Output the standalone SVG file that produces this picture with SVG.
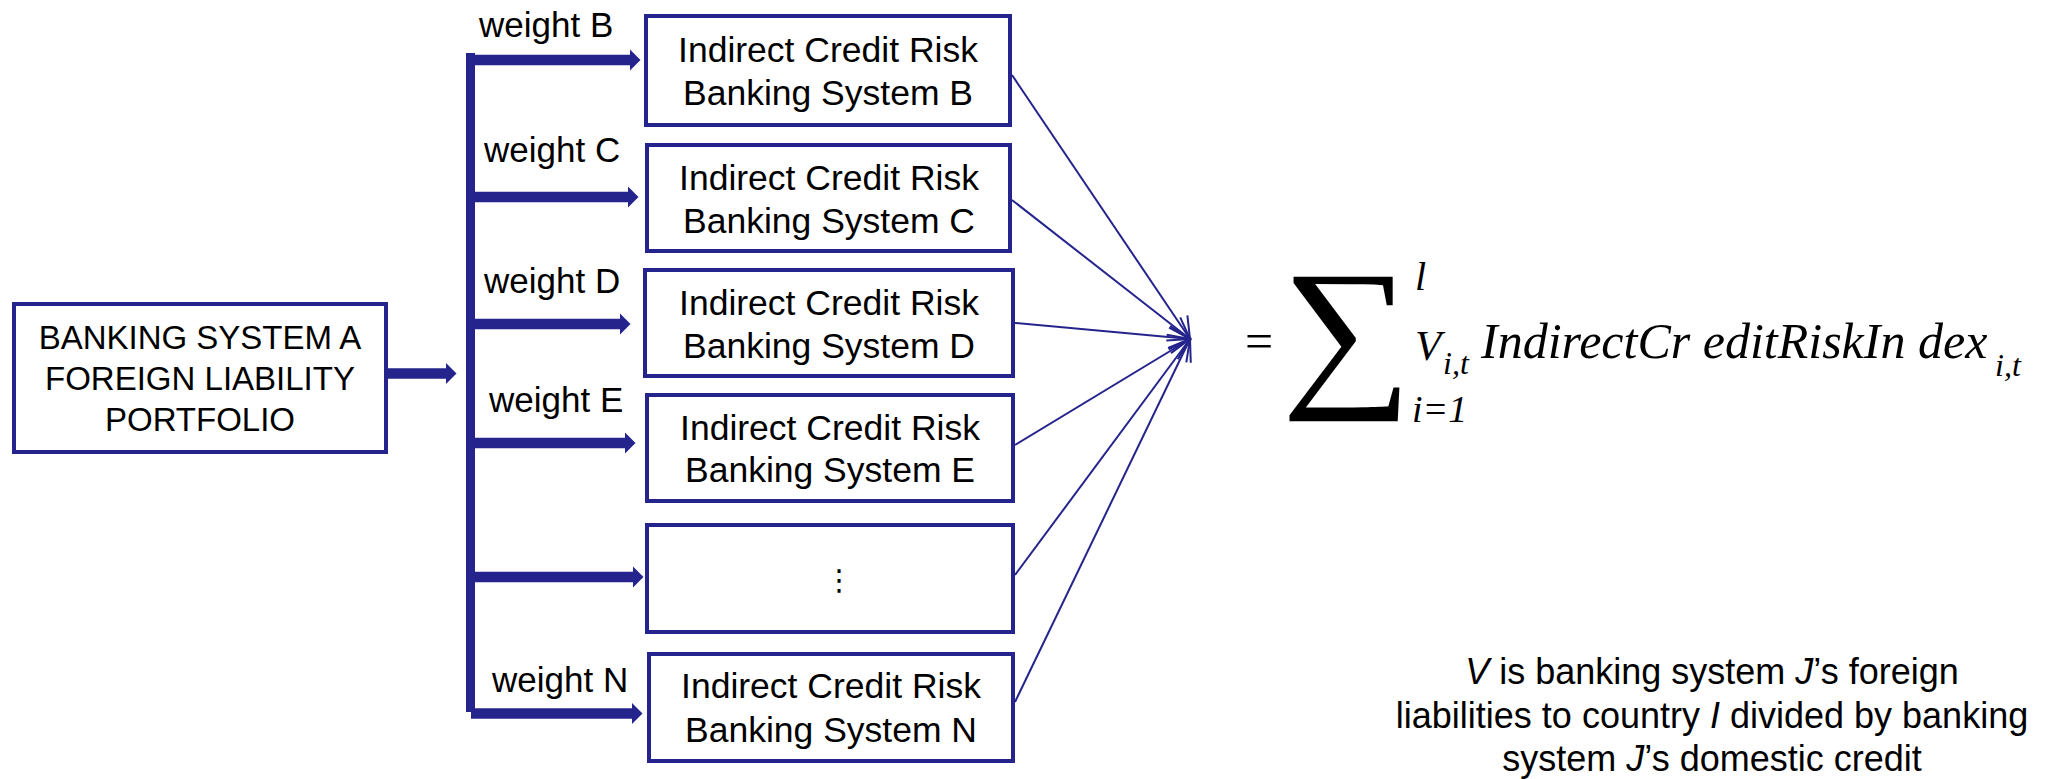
<svg xmlns="http://www.w3.org/2000/svg" width="2062" height="779" viewBox="0 0 2062 779">
  <style>
    .box { fill: #ffffff; stroke: #24248C; stroke-width: 4; }
    .lbl { font-family: "Liberation Sans", Arial, sans-serif; fill: #000000; text-anchor: middle; }
    .wt { font-family: "Liberation Sans", Arial, sans-serif; font-size: 35px; fill: #000000; }
    .feed { stroke: #24248C; stroke-width: 10.5; fill: none; marker-end: url(#block); }
    .link { stroke: #24248C; stroke-width: 2; fill: none; marker-end: url(#open); }
    .math { font-family: "Liberation Serif", "Times New Roman", serif; font-style: italic; fill: #000000; }
    .note { font-family: "Liberation Sans", Arial, sans-serif; font-size: 36px; fill: #000000; text-anchor: middle; }
  </style>
  <defs>
    <marker id="block" markerUnits="userSpaceOnUse" markerWidth="14" markerHeight="24" viewBox="0 -12 14 24" refX="0" refY="0" orient="auto">
      <path d="M0,-10.5 L10.5,0 L0,10.5 Z" fill="#24248C"/>
    </marker>
    <marker id="open" markerUnits="userSpaceOnUse" markerWidth="30" markerHeight="30" viewBox="-26 -15 30 30" refX="0" refY="0" orient="auto">
      <path d="M-21,-11 L0,0 L-21,11" fill="none" stroke="#24248C" stroke-width="2"/>
    </marker>
  </defs>

  <rect width="2062" height="779" fill="#ffffff"/>

  <!-- connectors -->
  <g id="connectors">
    <!-- source to distribution bus -->
    <line class="feed" x1="386" y1="373.5" x2="446" y2="373.5"/>
    <!-- distribution bus -->
    <rect x="466" y="53" width="9" height="659" fill="#24248C"/>
    <!-- weighted branches -->
    <line class="feed" x1="470" y1="60" x2="630" y2="60"/>
    <line class="feed" x1="470" y1="197" x2="628" y2="197"/>
    <line class="feed" x1="470" y1="324" x2="620" y2="324"/>
    <line class="feed" x1="470" y1="443" x2="625" y2="443"/>
    <line class="feed" x1="470" y1="577" x2="633" y2="577"/>
    <line class="feed" x1="471" y1="713.5" x2="632" y2="713.5"/>
    <!-- aggregation links -->
    <line class="link" x1="1012" y1="75" x2="1190" y2="339"/>
    <line class="link" x1="1012" y1="200" x2="1190" y2="339"/>
    <line class="link" x1="1015" y1="323" x2="1190" y2="339"/>
    <line class="link" x1="1015" y1="445" x2="1190" y2="339"/>
    <line class="link" x1="1015" y1="575" x2="1190" y2="339"/>
    <line class="link" x1="1015" y1="702" x2="1190" y2="339"/>
  </g>

  <!-- branch weights -->
  <g id="weights">
    <text class="wt" x="479" y="37">weight B</text>
    <text class="wt" x="484" y="162">weight C</text>
    <text class="wt" x="484" y="293">weight D</text>
    <text class="wt" x="489" y="412">weight E</text>
    <text class="wt" x="492" y="692">weight N</text>
  </g>

  <g id="node-a">
    <rect class="box" x="14" y="304" width="372" height="148"/>
    <text class="lbl" font-size="33" x="200" y="349">BANKING SYSTEM A</text>
    <text class="lbl" font-size="33" x="200" y="390">FOREIGN LIABILITY</text>
    <text class="lbl" font-size="33" x="200" y="431">PORTFOLIO</text>
  </g>

  <g id="node-b">
    <rect class="box" x="646" y="16" width="364" height="109"/>
    <text class="lbl" font-size="35.5" x="828" y="62">Indirect Credit Risk</text>
    <text class="lbl" font-size="35.5" x="828" y="105">Banking System B</text>
  </g>

  <g id="node-c">
    <rect class="box" x="647" y="145" width="363" height="106"/>
    <text class="lbl" font-size="35.5" x="829" y="190">Indirect Credit Risk</text>
    <text class="lbl" font-size="35.5" x="829" y="233">Banking System C</text>
  </g>

  <g id="node-d">
    <rect class="box" x="645" y="270" width="368" height="106"/>
    <text class="lbl" font-size="35.5" x="829" y="315">Indirect Credit Risk</text>
    <text class="lbl" font-size="35.5" x="829" y="358">Banking System D</text>
  </g>

  <g id="node-e">
    <rect class="box" x="647" y="395" width="366" height="106"/>
    <text class="lbl" font-size="35.5" x="830" y="440">Indirect Credit Risk</text>
    <text class="lbl" font-size="35.5" x="830" y="482">Banking System E</text>
  </g>

  <g id="node-more">
    <rect class="box" x="647" y="525" width="366" height="107"/>
    <text x="839" y="590" font-family="DejaVu Sans, sans-serif" font-size="29" text-anchor="middle" fill="#000000">⋮</text>
  </g>

  <g id="node-n">
    <rect class="box" x="649" y="654" width="364" height="107"/>
    <text class="lbl" font-size="35.5" x="831" y="698">Indirect Credit Risk</text>
    <text class="lbl" font-size="35.5" x="831" y="742">Banking System N</text>
  </g>

  <!-- aggregate index formula -->
  <g id="formula">
    <text x="1245" y="358" font-family="Liberation Serif, serif" font-size="50" fill="#000000">=</text>
    <text transform="translate(1281,385.5) scale(1.1,1)" font-family="Liberation Serif, serif" font-size="167" fill="#000000">∑</text>
    <text class="math" x="1415" y="290" font-size="40">l</text>
    <text class="math" x="1412" y="422" font-size="38">i=1</text>
    <text class="math" x="1415" y="360" font-size="43">V</text>
    <text class="math" x="1443" y="374" font-size="32">i,t</text>
    <text class="math" x="1481" y="358" font-size="50">IndirectCr editRiskIn dex</text>
    <text class="math" x="1995" y="376" font-size="32">i,t</text>
  </g>

  <!-- definition of V -->
  <g id="note">
    <text class="note" x="1712" y="684"><tspan font-style="italic">V</tspan> is banking system <tspan font-style="italic">J</tspan>’s foreign</text>
    <text class="note" x="1712" y="728">liabilities to country <tspan font-style="italic">I</tspan> divided by banking</text>
    <text class="note" x="1712" y="771">system <tspan font-style="italic">J</tspan>’s domestic credit</text>
  </g>
</svg>
